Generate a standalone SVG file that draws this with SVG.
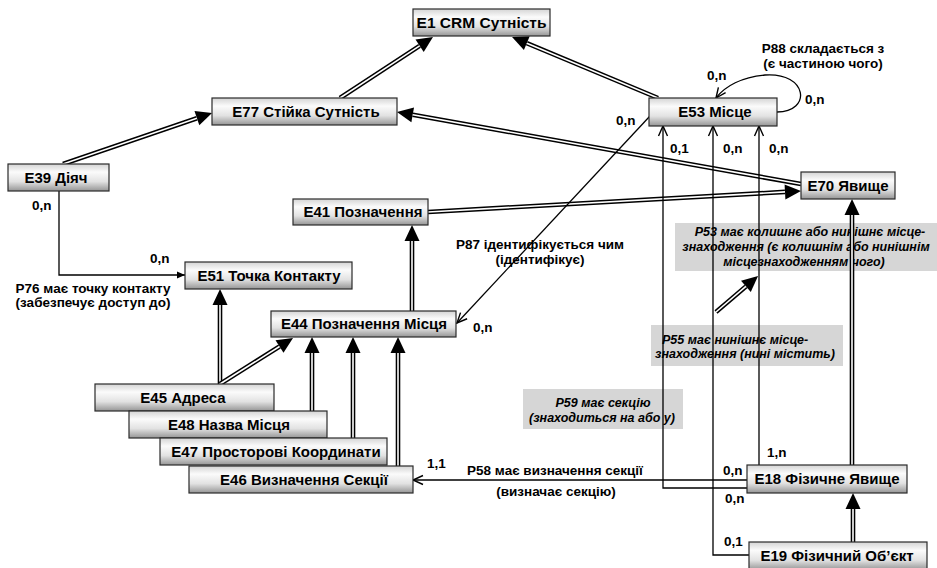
<svg xmlns="http://www.w3.org/2000/svg" width="937" height="568" viewBox="0 0 937 568">
<defs>
<linearGradient id="ng" x1="0" y1="0" x2="0" y2="1">
<stop offset="0" stop-color="#d4d4d4"/>
<stop offset="0.3" stop-color="#fbfbfb"/>
<stop offset="0.65" stop-color="#e2e2e2"/>
<stop offset="1" stop-color="#959595"/>
</linearGradient>
<marker id="inh" markerUnits="userSpaceOnUse" markerWidth="17" markerHeight="16" refX="0" refY="8" orient="auto" overflow="visible">
<path d="M0,0.5 L16,8 L0,15.5 z" fill="#000"/>
</marker>
<marker id="open" markerUnits="userSpaceOnUse" markerWidth="12" markerHeight="12" refX="10" refY="4.5" orient="auto" overflow="visible">
<path d="M0,0 L10,4.5 L0,9" fill="none" stroke="#000" stroke-width="1.4"/>
</marker>
<marker id="fill" markerUnits="userSpaceOnUse" markerWidth="10" markerHeight="8" refX="8" refY="3.5" orient="auto" overflow="visible">
<path d="M0,0 L8,3.5 L0,7 z" fill="#000"/>
</marker>
</defs>
<style>
.node rect{fill:url(#ng);stroke:#2a2a2a;stroke-width:1.2}
.node text{font-family:"Liberation Sans",Arial,sans-serif;font-weight:bold;font-size:15px;text-anchor:middle;fill:#000}
.lbl{font-family:"Liberation Sans",Arial,sans-serif;font-weight:bold;font-size:13.5px;fill:#000}
.card{font-family:"Liberation Sans",Arial,sans-serif;font-weight:bold;font-size:13.5px;fill:#000}
.mid{text-anchor:middle}
.gbox{fill:#d6d6d6}
.glbl{font-family:"Liberation Sans",Arial,sans-serif;font-weight:bold;font-style:italic;font-size:12.5px;fill:#000}
.dbl{fill:none;stroke:#000;stroke-width:4.6}
.dblw{fill:none;stroke:#fff;stroke-width:1.6}
.assoc{fill:none;stroke:#000;stroke-width:1.3}
</style>

<g id="property-labels">
<rect class="gbox" x="675" y="223" width="262" height="48"/>
<text class="glbl mid" x="810" y="236">P53 має колишнє або нинішнє місце-</text>
<text class="glbl mid" x="806" y="251">знаходження (є колишнім або нинішнім</text>
<text class="glbl mid" x="804" y="266">місцезнаходженням чого)</text>
<rect class="gbox" x="651" y="325" width="192" height="41"/>
<text class="glbl" x="662" y="344">P55 має нинішнє місце-</text>
<text class="glbl" x="655" y="358">знаходження (нині містить)</text>
<rect class="gbox" x="523" y="389" width="160" height="40"/>
<text class="glbl mid" x="603" y="407">P59 має секцію</text>
<text class="glbl mid" x="602" y="422">(знаходиться на або у)</text>
<text class="lbl mid" x="823" y="53">P88 складається з</text>
<text class="lbl mid" x="823" y="68">(є частиною чого)</text>
<text class="lbl mid" x="93" y="293">P76 має точку контакту</text>
<text class="lbl mid" x="93" y="307">(забезпечує доступ до)</text>
<text class="lbl mid" x="540" y="249">P87 ідентифікується чим</text>
<text class="lbl mid" x="540" y="264">(ідентифікує)</text>
<text class="lbl mid" x="555" y="475">P58 має визначення секції</text>
<text class="lbl mid" x="556" y="496">(визначає секцію)</text>
<text class="card" x="707" y="80">0,n</text>
<text class="card" x="805" y="104">0,n</text>
<text class="card" x="616" y="125">0,n</text>
<text class="card" x="670" y="153">0,1</text>
<text class="card" x="723" y="153">0,n</text>
<text class="card" x="769" y="153">0,n</text>
<text class="card" x="32" y="210">0,n</text>
<text class="card" x="150" y="263">0,n</text>
<text class="card" x="473" y="332">0,n</text>
<text class="card" x="427" y="468">1,1</text>
<text class="card" x="723" y="475">0,n</text>
<text class="card" x="725" y="503">0,n</text>
<text class="card" x="767" y="457">1,n</text>
<text class="card" x="724" y="546">0,1</text>
</g>

<g id="connectors">
<path class="dbl" d="M340,98 L419.6,45.8" marker-end="url(#inh)"/><path class="dblw" d="M340,98 L419.6,45.8"/>
<path class="dbl" d="M658,98 L526.8,43.2" marker-end="url(#inh)"/><path class="dblw" d="M658,98 L526.8,43.2"/>
<path class="dbl" d="M63,164 L196.9,118.2" marker-end="url(#inh)"/><path class="dblw" d="M63,164 L196.9,118.2"/>
<path class="dbl" d="M801,184 L412.7,114.8" marker-end="url(#inh)"/><path class="dblw" d="M801,184 L412.7,114.8"/>
<path class="dbl" d="M428,212 L785,191.9" marker-end="url(#inh)"/><path class="dblw" d="M428,212 L785,191.9"/>
<path class="dbl" d="M412,311 L412,241" marker-end="url(#inh)"/><path class="dblw" d="M412,311 L412,241"/>
<path class="dbl" d="M220,384 L220,305" marker-end="url(#inh)"/><path class="dblw" d="M220,384 L220,305"/>
<path class="dbl" d="M220,384 L279.5,346.5" marker-end="url(#inh)"/><path class="dblw" d="M220,384 L279.5,346.5"/>
<path class="dbl" d="M312,411 L312,353" marker-end="url(#inh)"/><path class="dblw" d="M312,411 L312,353"/>
<path class="dbl" d="M353,438 L353,353" marker-end="url(#inh)"/><path class="dblw" d="M353,438 L353,353"/>
<path class="dbl" d="M398,466 L398,353" marker-end="url(#inh)"/><path class="dblw" d="M398,466 L398,353"/>
<path class="dbl" d="M852,465 L852,215" marker-end="url(#inh)"/><path class="dblw" d="M852,465 L852,215"/>
<path class="dbl" d="M853,542 L853,509" marker-end="url(#inh)"/><path class="dblw" d="M853,542 L853,509"/>
<path class="dbl" d="M716,312 L745.9,286.4" marker-end="url(#inh)"/><path class="dblw" d="M716,312 L745.9,286.4"/>
<path class="assoc" d="M59,191 V275 H185" marker-end="url(#fill)"/>
<path class="assoc" d="M650,116 L457,323" marker-end="url(#open)"/>
<path class="assoc" d="M777,112 C812,112 808,72 765,75 C742,77 725,86 716,98" marker-end="url(#open)"/>
<path class="assoc" d="M747,488 H663 V126" marker-end="url(#open)"/>
<path class="assoc" d="M749,555 H713 V126" marker-end="url(#open)"/>
<path class="assoc" d="M759,465 V126" marker-end="url(#open)"/>
<path class="assoc" d="M747,480 H413" marker-end="url(#open)"/>
</g>

<g id="E1" class="node"><rect x="413" y="9" width="137" height="27"/><text x="481.5" y="28" style="font-size:15.5px">E1 CRM Сутність</text></g>
<g id="E77" class="node"><rect x="212" y="98" width="185" height="27"/><text x="306" y="117">E77 Стійка Сутність</text></g>
<g id="E53" class="node"><rect x="649" y="98" width="128" height="28"/><text x="715" y="117">E53 Місце</text></g>
<g id="E39" class="node"><rect x="8" y="164" width="101" height="27"/><text x="56" y="183">E39 Діяч</text></g>
<g id="E70" class="node"><rect x="801" y="172" width="94" height="27"/><text x="848" y="191">E70 Явище</text></g>
<g id="E41" class="node"><rect x="293" y="199" width="135" height="26"/><text x="363" y="217">E41 Позначення</text></g>
<g id="E51" class="node"><rect x="185" y="262" width="167" height="27"/><text x="269" y="281">E51 Точка Контакту</text></g>
<g id="E44" class="node"><rect x="271" y="311" width="185" height="26"/><text x="364" y="329">E44 Позначення Місця</text></g>
<g id="E45" class="node"><rect x="95" y="384" width="179" height="27"/><text x="183" y="403">E45 Адреса</text></g>
<g id="E48" class="node"><rect x="129" y="411" width="198" height="27"/><text x="229" y="430">E48 Назва Місця</text></g>
<g id="E47" class="node"><rect x="160" y="438" width="227" height="27"/><text x="276" y="457">E47 Просторові Координати</text></g>
<g id="E46" class="node"><rect x="189" y="466" width="224" height="27"/><text x="304" y="485">E46 Визначення Секції</text></g>
<g id="E18" class="node"><rect x="747" y="465" width="160" height="28"/><text x="827" y="484">E18 Фізичне Явище</text></g>
<g id="E19" class="node"><rect x="749" y="542" width="178" height="28"/><text x="837" y="561">E19 Фізичний Об’єкт</text></g>
</svg>
